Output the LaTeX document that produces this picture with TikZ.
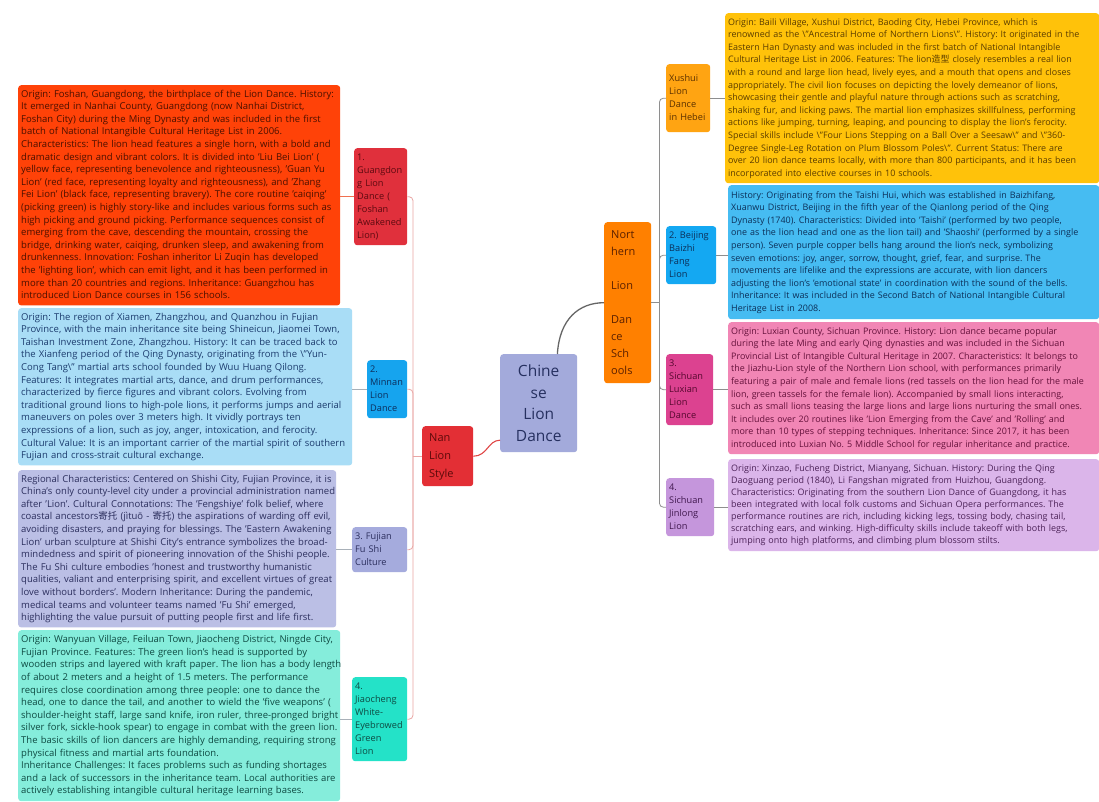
\documentclass[tikz,border=0pt]{standalone}
\usepackage{fontspec}
\setmainfont{Open Sans}
\newfontfamily\cjk{Noto Sans CJK SC}
\usetikzlibrary{calc}
\frenchspacing
\definecolor{cRedBlk}{HTML}{FF4208}\definecolor{tRedBlk}{HTML}{4A1000}
\definecolor{cLa}{HTML}{E0303C}\definecolor{tLa}{HTML}{5C0A10}
\definecolor{cNan}{HTML}{E32F35}\definecolor{tNan}{HTML}{5C0A0A}
\definecolor{cLBlue}{HTML}{A9DDF6}\definecolor{tLBlue}{HTML}{1C3C6E}
\definecolor{cLb}{HTML}{16A4EE}\definecolor{tLb}{HTML}{0C2E5C}
\definecolor{cLav}{HTML}{BBBFE5}\definecolor{tLav}{HTML}{2C2F5E}
\definecolor{cLc}{HTML}{A5ABDD}
\definecolor{cCyan}{HTML}{85EDDB}\definecolor{tCyan}{HTML}{0E4A42}
\definecolor{cLd}{HTML}{24E2C8}
\definecolor{cGold}{HTML}{FFC20A}\definecolor{tGold}{HTML}{5A3C00}
\definecolor{cRa}{HTML}{FFA412}\definecolor{tRa}{HTML}{5A3000}
\definecolor{cBlue}{HTML}{46BCF2}\definecolor{tBlue}{HTML}{0C2F58}
\definecolor{cRb}{HTML}{14A8F2}
\definecolor{cPink}{HTML}{F186B5}\definecolor{tPink}{HTML}{64103A}
\definecolor{cRc}{HTML}{DC4290}\definecolor{tRc}{HTML}{55082E}
\definecolor{cLilac}{HTML}{DBB5EA}\definecolor{tLilac}{HTML}{4C2258}
\definecolor{cRd}{HTML}{C596DC}\definecolor{tRd}{HTML}{40184E}
\definecolor{cNorth}{HTML}{FF8000}\definecolor{tNorth}{HTML}{5A2000}
\definecolor{cCenter}{HTML}{A3AADB}\definecolor{tCenter}{HTML}{263060}
\definecolor{cTrunkL}{HTML}{E9A6A4}
\definecolor{cTrunkR}{HTML}{8E8E8E}
\definecolor{cConRed}{HTML}{F07050}
\definecolor{cConGray}{HTML}{A8B0B8}
\definecolor{cCurveGray}{HTML}{666666}
\definecolor{cCurveRed}{HTML}{E04848}
\newcommand\tb[1]{\begin{tabular}{@{}l@{}}#1\end{tabular}}
\tikzset{
  blk/.style={anchor=north west, rounded corners=3pt, inner sep=3pt, align=left,
    font=\fontsize{9.5}{12.6}\selectfont},
  rblk/.style={blk, font=\fontsize{8.95}{12.6}\selectfont},
  lab/.style={anchor=north west, rounded corners=3pt, inner sep=3pt, align=left,
    font=\fontsize{9.2}{13}\selectfont},
  leftline/.style={draw=cTrunkL, line width=0.8pt, rounded corners=4pt},
  rightline/.style={draw=cTrunkR, line width=0.8pt, rounded corners=4pt},
  conred/.style={draw=cConRed, line width=0.8pt},
  congray/.style={draw=cConGray, line width=0.8pt},
  congrayr/.style={draw=cTrunkR, line width=0.8pt},
}
\begin{document}
\begin{tikzpicture}[x=1pt,y=-1pt]
\useasboundingbox[fill=white] (0,0) rectangle (1099,801);

% ---------- left text blocks ----------
\node[blk, fill=cRedBlk, text=tRedBlk, text width=316pt, minimum height=217pt] (tG) at (18,85) {\tb{%
Origin: Foshan, Guangdong, the birthplace of the Lion Dance. History:\\
It emerged in Nanhai County, Guangdong (now Nanhai District,\\
Foshan City) during the Ming Dynasty and was included in the first\\
batch of National Intangible Cultural Heritage List in 2006.\\
Characteristics: The lion head features a single horn, with a bold and\\
dramatic design and vibrant colors. It is divided into 'Liu Bei Lion' (\\
yellow face, representing benevolence and righteousness), 'Guan Yu\\
Lion' (red face, representing loyalty and righteousness), and 'Zhang\\
Fei Lion' (black face, representing bravery). The core routine 'caiqing'\\
(picking green) is highly story-like and includes various forms such as\\
high picking and ground picking. Performance sequences consist of\\
emerging from the cave, descending the mountain, crossing the\\
bridge, drinking water, caiqing, drunken sleep, and awakening from\\
drunkenness. Innovation: Foshan inheritor Li Zuqin has developed\\
the 'lighting lion', which can emit light, and it has been performed in\\
more than 20 countries and regions. Inheritance: Guangzhou has\\
introduced Lion Dance courses in 156 schools.}};

\node[blk, fill=cLBlue, text=tLBlue, text width=328pt, minimum height=156pt] (tM) at (18,308) {\tb{%
Origin: The region of Xiamen, Zhangzhou, and Quanzhou in Fujian\\
Province, with the main inheritance site being Shineicun, Jiaomei Town,\\
Taishan Investment Zone, Zhangzhou. History: It can be traced back to\\
the Xianfeng period of the Qing Dynasty, originating from the \textbackslash"Yun-\\
Cong Tang\textbackslash" martial arts school founded by Wuu Huang Qilong.\\
Features: It integrates martial arts, dance, and drum performances,\\
characterized by fierce figures and vibrant colors. Evolving from\\
traditional ground lions to high-pole lions, it performs jumps and aerial\\
maneuvers on poles over 3 meters high. It vividly portrays ten\\
expressions of a lion, such as joy, anger, intoxication, and ferocity.\\
Cultural Value: It is an important carrier of the martial spirit of southern\\
Fujian and cross-strait cultural exchange.}};

\node[blk, fill=cLav, text=tLav, text width=312pt, minimum height=157pt] (tF) at (18,470) {\tb{%
Regional Characteristics: Centered on Shishi City, Fujian Province, it is\\
China's only county-level city under a provincial administration named\\
after 'Lion'. Cultural Connotations: The 'Fengshiye' folk belief, where\\
coastal ancestors{\cjk 寄托} (jìtuō - {\cjk 寄托}) the aspirations of warding off evil,\\
avoiding disasters, and praying for blessings. The 'Eastern Awakening\\
Lion' urban sculpture at Shishi City's entrance symbolizes the broad-\\
mindedness and spirit of pioneering innovation of the Shishi people.\\
The Fu Shi culture embodies 'honest and trustworthy humanistic\\
qualities, valiant and enterprising spirit, and excellent virtues of great\\
love without borders'. Modern Inheritance: During the pandemic,\\
medical teams and volunteer teams named 'Fu Shi' emerged,\\
highlighting the value pursuit of putting people first and life first.}};

\node[blk, fill=cCyan, text=tCyan, text width=316pt, minimum height=171pt] (tJ) at (18,630) {\tb{%
Origin: Wanyuan Village, Feiluan Town, Jiaocheng District, Ningde City,\\
Fujian Province. Features: The green lion's head is supported by\\
wooden strips and layered with kraft paper. The lion has a body length\\
of about 2 meters and a height of 1.5 meters. The performance\\
requires close coordination among three people: one to dance the\\
head, one to dance the tail, and another to wield the 'five weapons' (\\
shoulder-height staff, large sand knife, iron ruler, three-pronged bright\\
silver fork, sickle-hook spear) to engage in combat with the green lion.\\
The basic skills of lion dancers are highly demanding, requiring strong\\
physical fitness and martial arts foundation.\\
Inheritance Challenges: It faces problems such as funding shortages\\
and a lack of successors in the inheritance team. Local authorities are\\
actively establishing intangible cultural heritage learning bases.}};

% ---------- left labels ----------
\node[lab, fill=cLa, text=tLa, text width=47pt, minimum height=94pt] (l1) at (354,148) {\tb{1.\\Guangdon\\g Lion\\Dance (\\Foshan\\Awakened\\Lion)}};
\node[lab, fill=cLb, text=tLb, text width=34pt, minimum height=56pt] (l2) at (367,360) {\tb{2.\\Minnan\\Lion\\Dance}};
\node[lab, fill=cLc, text=tLav, text width=49pt, minimum height=44pt] (l3) at (352,527) {\tb{3. Fujian\\Fu Shi\\Culture}};
\node[lab, fill=cLd, text=tCyan, text width=49pt, minimum height=80pt] (l4) at (352,677) {\tb{4.\\Jiaocheng\\White-\\Eyebrowed\\Green\\Lion}};
\node[lab, fill=cNan, text=tNan, text width=37pt, inner xsep=7pt, minimum height=59pt, font=\fontsize{11}{18}\selectfont] (nan) at (422,426) {\tb{Nan\\Lion\\Style}};

% ---------- centre ----------
\node[anchor=north west, fill=cCenter, text=tCenter, rounded corners=3pt, inner sep=3pt, text width=71pt, minimum height=98pt, align=center, font=\fontsize{15.5}{21.5}\selectfont] (center) at (500,354) {Chine\\se\\Lion\\Dance};
\node[lab, fill=cNorth, text=tNorth, text width=33pt, inner xsep=7pt, minimum height=161pt, font=\fontsize{11}{17}\selectfont] (north) at (604,222) {\tb{Nort\\hern\\ \\Lion\\ \\Dan\\ce\\Sch\\ools}};

% ---------- right labels ----------
\node[lab, fill=cRa, text=tRa, text width=38pt, minimum height=68pt] (r1) at (666,64) {\tb{Xushui\\Lion\\Dance\\in Hebei}};
\node[lab, fill=cRb, text=tBlue, text width=44pt, minimum height=54pt] (r2) at (666,226) {\tb{2. Beijing\\Baizhi\\Fang\\Lion}};
\node[lab, fill=cRc, text=tRc, text width=41pt, minimum height=69pt] (r3) at (666,354) {\tb{3.\\Sichuan\\Luxian\\Lion\\Dance}};
\node[lab, fill=cRd, text=tRd, text width=42pt, minimum height=55pt] (r4) at (666,478) {\tb{4.\\Sichuan\\Jinlong\\Lion}};

% ---------- right text blocks ----------
\node[rblk, fill=cGold, text=tGold, text width=368pt, minimum height=170pt] (tX) at (725,13) {\tb{%
Origin: Baili Village, Xushui District, Baoding City, Hebei Province, which is\\
renowned as the \textbackslash"Ancestral Home of Northern Lions\textbackslash". History: It originated in the\\
Eastern Han Dynasty and was included in the first batch of National Intangible\\
Cultural Heritage List in 2006. Features: The lion{\cjk 造型} closely resembles a real lion\\
with a round and large lion head, lively eyes, and a mouth that opens and closes\\
appropriately. The civil lion focuses on depicting the lovely demeanor of lions,\\
showcasing their gentle and playful nature through actions such as scratching,\\
shaking fur, and licking paws. The martial lion emphasizes skillfulness, performing\\
actions like jumping, turning, leaping, and pouncing to display the lion's ferocity.\\
Special skills include \textbackslash"Four Lions Stepping on a Ball Over a Seesaw\textbackslash" and \textbackslash"360-\\
Degree Single-Leg Rotation on Plum Blossom Poles\textbackslash". Current Status: There are\\
over 20 lion dance teams locally, with more than 800 participants, and it has been\\
incorporated into elective courses in 10 schools.}};

\node[rblk, fill=cBlue, text=tBlue, text width=365pt, minimum height=134pt] (tB) at (728,185) {\tb{%
History: Originating from the Taishi Hui, which was established in Baizhifang,\\
Xuanwu District, Beijing in the fifth year of the Qianlong period of the Qing\\
Dynasty (1740). Characteristics: Divided into 'Taishi' (performed by two people,\\
one as the lion head and one as the lion tail) and 'Shaoshi' (performed by a single\\
person). Seven purple copper bells hang around the lion's neck, symbolizing\\
seven emotions: joy, anger, sorrow, thought, grief, fear, and surprise. The\\
movements are lifelike and the expressions are accurate, with lion dancers\\
adjusting the lion's 'emotional state' in coordination with the sound of the bells.\\
Inheritance: It was included in the Second Batch of National Intangible Cultural\\
Heritage List in 2008.}};

\node[rblk, fill=cPink, text=tPink, text width=365pt, minimum height=132pt] (tL) at (728,322) {\tb{%
Origin: Luxian County, Sichuan Province. History: Lion dance became popular\\
during the late Ming and early Qing dynasties and was included in the Sichuan\\
Provincial List of Intangible Cultural Heritage in 2007. Characteristics: It belongs to\\
the Jiazhu-Lion style of the Northern Lion school, with performances primarily\\
featuring a pair of male and female lions (red tassels on the lion head for the male\\
lion, green tassels for the female lion). Accompanied by small lions interacting,\\
such as small lions teasing the large lions and large lions nurturing the small ones.\\
It includes over 20 routines like 'Lion Emerging from the Cave' and 'Rolling' and\\
more than 10 types of stepping techniques. Inheritance: Since 2017, it has been\\
introduced into Luxian No. 5 Middle School for regular inheritance and practice.}};

\node[rblk, fill=cLilac, text=tLilac, text width=365pt, minimum height=92pt, font=\fontsize{8.95}{12}\selectfont] (tS) at (728,459) {\tb{%
Origin: Xinzao, Fucheng District, Mianyang, Sichuan. History: During the Qing\\
Daoguang period (1840), Li Fangshan migrated from Huizhou, Guangdong.\\
Characteristics: Originating from the southern Lion Dance of Guangdong, it has\\
been integrated with local folk customs and Sichuan Opera performances. The\\
performance routines are rich, including kicking legs, tossing body, chasing tail,\\
scratching ears, and winking. High-difficulty skills include takeoff with both legs,\\
jumping onto high platforms, and climbing plum blossom stilts.}};

% ---------- left connectors ----------
\coordinate (lt) at ([xshift=-9pt]nan.west);
\draw[leftline] (nan.west) -- (lt);
\draw[leftline] (l1.east) -| (lt);
\draw[leftline] (l2.east) -| (lt);
\draw[leftline] (l3.east) -| (lt);
\draw[leftline] (l4.east) -| (lt);
\draw[conred] (tG.east |- l1.west) -- (l1.west);
\draw[congray] (tM.east |- l2.west) -- (l2.west);
\draw[congray] (tF.east |- l3.west) -- (l3.west);
\draw[congray] (tJ.east |- l4.west) -- (l4.west);

% ---------- right connectors ----------
\coordinate (rt) at ([xshift=8pt]north.east);
\draw[rightline] (north.east) -- (rt);
\draw[rightline] (rt) |- (r1.west);
\draw[rightline] (rt) |- (r2.west);
\draw[rightline] (rt) |- (r3.west);
\draw[rightline] (rt) |- (r4.west);
\draw[congrayr] (r1.east) -- (r1.east -| tX.west);
\draw[congrayr] (r2.east) -- (r2.east -| tB.west);
\draw[congrayr] (r3.east) -- (r3.east -| tL.west);
\draw[congrayr] (r4.east) -- (r4.east -| tS.west);

% ---------- centre connectors ----------
\draw[draw=cCurveGray, line width=1.3pt] ([xshift=-20pt]center.north east) .. controls +(2,-35) and +(-25,0) .. (north.west);
\draw[draw=cCurveRed, line width=1.1pt] (nan.east) .. controls +(14,0) and +(-12,0) .. ([yshift=-37pt]center.west);
\end{tikzpicture}
\end{document}
